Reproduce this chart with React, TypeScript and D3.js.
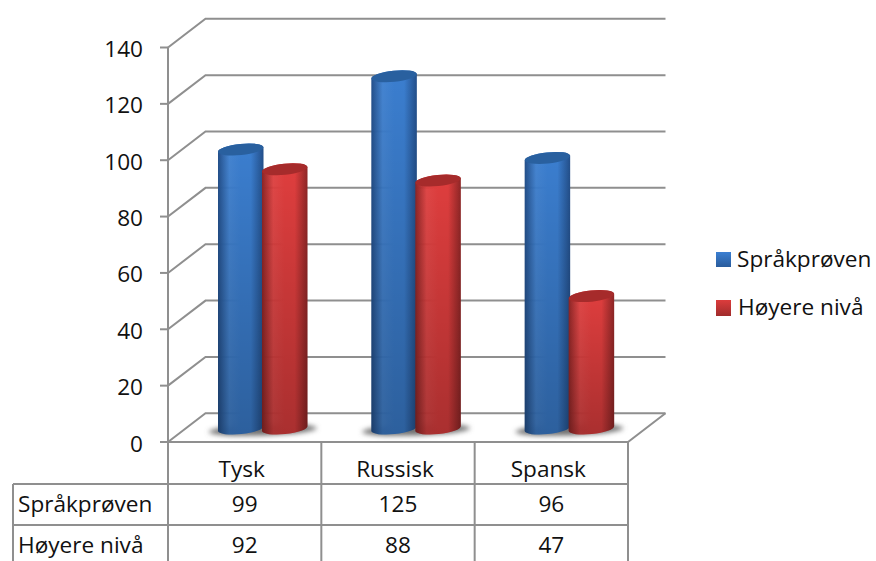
import React from "react";
import * as d3 from "d3";

// Pupil counts per language, by exam level
const categories = ["Tysk", "Russisk", "Spansk"];
const seriesNames = ["Språkprøven", "Høyere nivå"];
const spraakproven = [99, 125, 96];
const hoyereNiva = [92, 88, 47];
const yTicks = [0, 20, 40, 60, 80, 100, 120, 140];

const W = 876;
const H = 561;
const FONT = "'Open Sans', Carlito, Lato, sans-serif";
const FONT_SIZE = 22.6;
const TEXT = "#111";
const GRID = "#8f8f8f";

// Front face of the 3D box and the depth offset of its back wall
const frontLeft = 168;
const frontRight = 628;
const depthX = 37.5;
const depthY = -28.7;

const y = d3.scaleLinear().domain([0, 140]).range([442, 47.5]);
const x = d3.scaleBand<string>().domain(categories).range([frontLeft, frontRight]);

// Cylinder placement within a category slot
const barW = 45.5;
const barDx = 44;
const barBaseY = 428.5 - y(0);
const firstBarOffset = 50;
const rx = barW / 2;
const ry = 5.6;
const tiltDeg = -6;
const tilt = rx * Math.sin((-tiltDeg * Math.PI) / 180);

const palette = [
  { id: "blue", edge: "#234f8a", mid: "#3b7ecf", top: "#29609f" },
  { id: "red", edge: "#8e2626", mid: "#df3e3e", top: "#a62b2b" },
];

function Cylinder({ cx, value, s }: { cx: number; value: number; s: number }) {
  const yTop = y(value) + barBaseY;
  const yBase = y(0) + barBaseY;
  const x0 = cx - rx;
  const x1 = cx + rx;
  const body = [
    `M${x0},${yTop + tilt}`,
    `L${x0},${yBase + tilt}`,
    `A${rx},${ry} ${tiltDeg} 0 0 ${x1},${yBase - tilt}`,
    `L${x1},${yTop - tilt}`,
    `A${rx},${ry} ${tiltDeg} 0 0 ${x0},${yTop + tilt}`,
    "Z",
  ].join(" ");
  const pal = palette[s];
  return (
    <g>
      <path d={body} fill={`url(#${pal.id}Side)`} />
      <path d={body} fill="url(#fadeDown)" />
      <ellipse
        cx={cx}
        cy={yTop}
        rx={rx}
        ry={ry}
        fill={pal.top}
        transform={`rotate(${tiltDeg} ${cx} ${yTop})`}
      />
    </g>
  );
}

export default function App() {
  const series = [spraakproven, hoyereNiva];
  return (
    <svg
      width={W}
      height={H}
      viewBox={`0 0 ${W} ${H}`}
      style={{ position: "absolute", left: 0, top: 0, background: "#fff" }}
      fontFamily={FONT}
    >
      <defs>
        {palette.map((p) => (
          <linearGradient key={p.id} id={`${p.id}Side`} x1="0" x2="1" y1="0" y2="0">
            <stop offset="0" stopColor={p.edge} />
            <stop offset="0.25" stopColor={p.mid} stopOpacity={0.95} />
            <stop offset="0.5" stopColor={p.mid} />
            <stop offset="0.72" stopColor={p.mid} />
            <stop offset="1" stopColor={p.edge} />
          </linearGradient>
        ))}
        <linearGradient id="fadeDown" x1="0" x2="0" y1="0" y2="1">
          <stop offset="0" stopColor="#000" stopOpacity={0} />
          <stop offset="1" stopColor="#000" stopOpacity={0.24} />
        </linearGradient>
        <linearGradient id="blueKey" x1="0" x2="0" y1="0" y2="1">
          <stop offset="0" stopColor="#3b7fd2" />
          <stop offset="1" stopColor="#2a5c9c" />
        </linearGradient>
        <linearGradient id="redKey" x1="0" x2="0" y1="0" y2="1">
          <stop offset="0" stopColor="#dc3c3c" />
          <stop offset="1" stopColor="#a02c2c" />
        </linearGradient>
        <filter id="soft" x="-30%" y="-100%" width="160%" height="300%">
          <feGaussianBlur stdDeviation="2.6" />
        </filter>
      </defs>

      {/* Back wall gridlines and side wall diagonals */}
      <g stroke={GRID} strokeWidth={2} fill="none">
        {yTicks.map((t) => (
          <g key={t}>
            <line x1={frontLeft - 8} x2={frontLeft} y1={y(t)} y2={y(t)} />
            <polyline
              points={`${frontLeft},${y(t)} ${frontLeft + depthX},${y(t) + depthY} ${
                frontRight + depthX
              },${y(t) + depthY}`}
            />
          </g>
        ))}
        <line x1={frontLeft} x2={frontLeft} y1={y(140)} y2={H} />
        <polyline
          points={`${frontLeft},${y(0)} ${frontRight},${y(0)} ${frontRight + depthX},${
            y(0) + depthY
          }`}
        />
      </g>

      {/* Axis tick labels */}
      <g fontSize={FONT_SIZE} fill={TEXT} textAnchor="end">
        {yTicks.map((t) => (
          <text key={t} x={143} y={y(t) + 9.5}>
            {t}
          </text>
        ))}
      </g>

      {/* Floor shadows */}
      {categories.map((c) => {
        const cx = (x(c) as number) + firstBarOffset + (barDx + barW) / 2;
        const cy = y(0) + barBaseY + 1.5;
        return (
          <ellipse
            key={c}
            cx={cx}
            cy={cy}
            rx={54}
            ry={5.5}
            fill="#707070"
            filter="url(#soft)"
            transform={`rotate(-2 ${cx} ${cy})`}
          />
        );
      })}

      {/* Cylinders: the second series is drawn over the first */}
      {series.map((vals, s) =>
        vals.map((v, i) => (
          <Cylinder
            key={`${s}-${i}`}
            cx={(x(categories[i]) as number) + firstBarOffset + rx + s * barDx}
            value={v}
            s={s}
          />
        ))
      )}

      {/* Data table beneath the plot */}
      <g stroke={GRID} strokeWidth={2} fill="none">
        {categories.map((c) => (
          <line
            key={c}
            x1={(x(c) as number) + x.bandwidth()}
            x2={(x(c) as number) + x.bandwidth()}
            y1={y(0)}
            y2={H}
          />
        ))}
        <line x1={13} x2={13} y1={484} y2={H} />
        <line x1={13} x2={frontRight} y1={484} y2={484} />
        <line x1={13} x2={frontRight} y1={525} y2={525} />
      </g>
      <g fontSize={FONT_SIZE} fill={TEXT} textAnchor="middle">
        {categories.map((c, i) => {
          const mid = (x(c) as number) + x.bandwidth() / 2;
          return (
            <g key={c}>
              <text x={mid - 3} y={477}>{c}</text>
              <text x={mid} y={512}>{spraakproven[i]}</text>
              <text x={mid} y={553}>{hoyereNiva[i]}</text>
            </g>
          );
        })}
      </g>
      <g fontSize={FONT_SIZE} fill={TEXT}>
        <text x={18} y={512}>{seriesNames[0]}</text>
        <text x={18} y={553}>{seriesNames[1]}</text>
      </g>

      {/* Legend */}
      <rect x={716} y={252} width={15} height={15} fill="url(#blueKey)" />
      <rect x={716} y={300} width={15} height={16} fill="url(#redKey)" />
      <g fontSize={FONT_SIZE} fill={TEXT}>
        <text x={737} y={266.5}>{seriesNames[0]}</text>
        <text x={738} y={315}>{seriesNames[1]}</text>
      </g>
    </svg>
  );
}
